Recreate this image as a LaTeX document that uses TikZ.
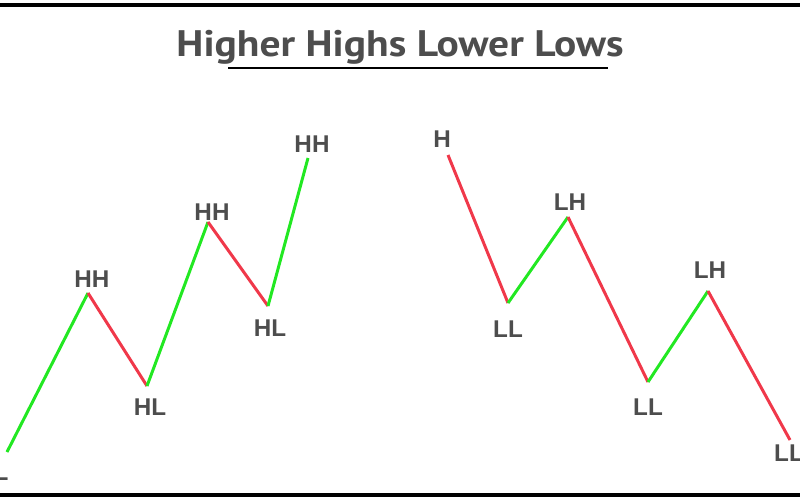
\documentclass[tikz,border=0pt]{standalone}
\usepackage{fontspec}
\setmainfont{Liberation Sans}
\newfontfamily\titlefont[FakeStretch=1.125]{PT Sans}
\definecolor{upgreen}{RGB}{34,232,34}
\definecolor{downred}{RGB}{240,56,74}
\definecolor{textgray}{RGB}{77,77,77}
\tikzset{
  upleg/.style={draw=upgreen, line width=1.7pt},
  downleg/.style={draw=downred, line width=1.7pt},
  swing/.style={text=textgray, font=\bfseries\fontsize{13.8}{14}\selectfont, anchor=base, inner sep=0pt},
  heading/.style={text=textgray, font=\titlefont\bfseries\fontsize{21}{24}\selectfont, anchor=base, inner sep=0pt},
  frame/.style={line width=2.3pt, black},
}

\begin{document}
\begin{tikzpicture}[x=0.02cm, y=-0.02cm]
  \useasboundingbox (0,0) rectangle (800,500);
  \clip (0,0) rectangle (800,500);

  % title
  \node[heading] (title) at (400,57) {Higher Highs Lower Lows};
  \draw[line width=1.7pt] (228,68) -- (608,68);
  \draw[frame] (0,5) -- (800,5);
  \draw[frame] (0,495) -- (800,495);

  % higher highs
  \draw (7,452) coordinate (l0);
  \draw (88,293) coordinate (l1);
  \draw (147,386) coordinate (l2);
  \draw (208,222) coordinate (l3);
  \draw (268,306) coordinate (l4);
  \draw (308,158) coordinate (l5);
  \draw[upleg] (l0) -- (l1);
  \draw[downleg] (l1) -- (l2);
  \draw[upleg] (l2) -- (l3);
  \draw[downleg] (l3) -- (l4);
  \draw[upleg] (l4) -- (l5);
  \node[swing] (l0t) at (1,480) {L};
  \node[swing] (l1t) at (92,287) {HH};
  \node[swing] (l2t) at (150,415) {HL};
  \node[swing] (l3t) at (212,220) {HH};
  \node[swing] (l4t) at (270,336) {HL};
  \node[swing] (l5t) at (312,152) {HH};

  % lower lows
  \draw (448,155) coordinate (r0);
  \draw (508,303) coordinate (r1);
  \draw (568,217) coordinate (r2);
  \draw (648,382) coordinate (r3);
  \draw (708,291) coordinate (r4);
  \draw (790,440) coordinate (r5);
  \draw[downleg] (r0) -- (r1);
  \draw[upleg] (r1) -- (r2);
  \draw[downleg] (r2) -- (r3);
  \draw[upleg] (r3) -- (r4);
  \draw[downleg] (r4) -- (r5);
  \node[swing] (r0t) at (442,147) {H};
  \node[swing] (r1t) at (508,337) {LL};
  \node[swing] (r2t) at (570,210) {LH};
  \node[swing] (r3t) at (648,415) {LL};
  \node[swing] (r4t) at (710,278) {LH};
  \node[swing] (r5t) at (789,461) {LL};
\end{tikzpicture}
\end{document}
